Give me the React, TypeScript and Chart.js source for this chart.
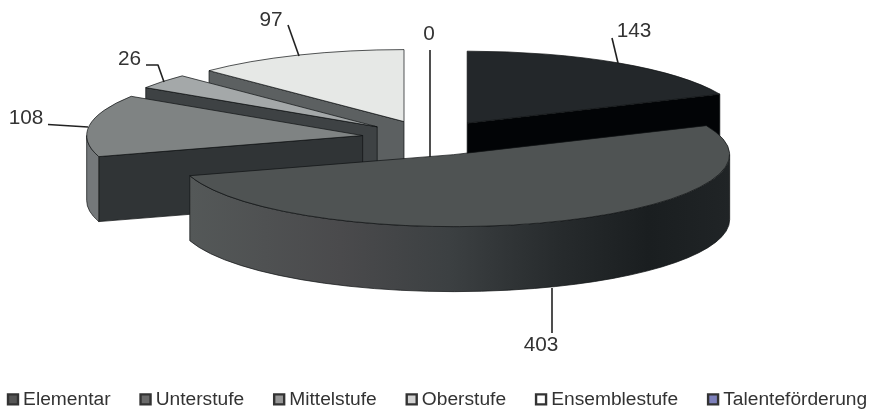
import React, { useEffect, useRef } from "react";
import { Chart, registerables } from "chart.js";

Chart.register(...registerables);

const categories = ["Elementar", "Unterstufe", "Mittelstufe", "Oberstufe", "Ensemblestufe", "Talenteförderung"];
const pupils = [143, 403, 108, 26, 97, 0];
const topColors = ["#23272a", "#4f5353", "#7f8383", "#a4a8a9", "#e6e8e6", "#ffffff"];
const cutColors = ["#020406", "#1f2325", "#303436", "#3e4244", "#5c6061", "#cccccc"];
const wallColors = ["#1a1e20", "", "#74787a", "#74787a", "#9a9c9c", "#eeeeee"];
const legendFills = ["#555555", "#6a6a6a", "#979797", "#d2d2d2", "#ffffff", "#7d80bb"];

// Label anchor and leader polyline for each slice that carries a visible label.
const labelLayout = [
  { text: [634, 31], line: [[612, 38], [618, 63]] },
  { text: [541, 345], line: [[552, 288], [552, 333]] },
  { text: [26, 118], line: [[48, 124.5], [88, 127]] },
  { text: [129.5, 59], line: [[146, 65], [158, 65], [164, 82]] },
  { text: [271, 20], line: [[288, 25], [299, 56]] },
  { text: [429, 34], line: [[430, 50], [430, 157]] },
];

// The canvas is wider and taller than the window so that the legend's wide item spacing fits on one row.
const CANVAS = { width: 1000, height: 419, shiftX: 22 };
const PIE = { cx: 430, cy: 138, rx: 276, ry: 72, depth: 65, explode: 68 };
const FONT = "20.8px 'Liberation Sans', Arial, sans-serif";
const TEXT = "#333333";
const EDGE = "rgba(16,18,20,0.95)";

const pie3d = {
  id: "pie3d",
  beforeDatasetDraw(chart: any, args: any) {
    const { ctx } = chart;
    const arcs = args.meta.data as any[];
    const items = arcs.map((arc, i) => {
      const p = arc.getProps(["x", "y", "startAngle", "endAngle", "outerRadius"], true);
      const mid = (p.startAngle + p.endAngle) / 2;
      const cosM = Math.cos(mid);
      const sinM = Math.sin(mid);
      return {
        i,
        arc,
        p,
        ax: PIE.cx + PIE.explode * cosM,
        ay: PIE.cy + (PIE.explode * sinM * PIE.ry) / PIE.rx,
        sinM,
      };
    });
    const at = (it: any, t: number) => [it.ax + PIE.rx * Math.cos(t), it.ay + PIE.ry * Math.sin(t)];
    const arcPath = (it: any, a: number, b: number) => {
      ctx.ellipse(it.ax, it.ay, PIE.rx, PIE.ry, 0, a, b);
    };
    const drawCut = (it: any, t: number) => {
      const [x, y] = at(it, t);
      ctx.beginPath();
      ctx.moveTo(it.ax, it.ay);
      ctx.lineTo(x, y);
      ctx.lineTo(x, y + PIE.depth);
      ctx.lineTo(it.ax, it.ay + PIE.depth);
      ctx.closePath();
      ctx.fillStyle = cutColors[it.i];
      ctx.fill();
      ctx.lineWidth = 0.75;
      ctx.strokeStyle = EDGE;
      ctx.stroke();
    };

    const order = items
      .filter((it) => it.p.endAngle > it.p.startAngle)
      .sort((a, b) => a.sinM - b.sinM);

    ctx.save();
    ctx.translate(CANVAS.shiftX, 0);
    ctx.lineJoin = "round";
    for (const it of order) {
      const s = it.p.startAngle;
      const e = it.p.endAngle;
      // Flat cut faces turned towards the viewer.
      if (Math.sin(s + Math.PI / 2) < -1e-6) drawCut(it, s);
      if (Math.sin(e + Math.PI / 2) > 1e-6) drawCut(it, e);

      // Outer wall: only the part of the rim in the front half of the ellipse.
      const from = Math.max(s, 0);
      const to = Math.min(e, Math.PI);
      if (to > from) {
        const [x1] = at(it, from);
        const [x2] = at(it, to);
        ctx.beginPath();
        arcPath(it, from, to);
        const [ex, ey] = at(it, to);
        ctx.lineTo(ex, ey + PIE.depth);
        ctx.ellipse(it.ax, it.ay + PIE.depth, PIE.rx, PIE.ry, 0, to, from, true);
        ctx.closePath();
        if (it.i === 1) {
          const g = ctx.createLinearGradient(x2, 0, x1, 0);
          g.addColorStop(0, "#545858");
          g.addColorStop(0.28, "#4a4a4c");
          g.addColorStop(0.48, "#3c4042");
          g.addColorStop(0.68, "#272b2d");
          g.addColorStop(0.85, "#1a1e20");
          g.addColorStop(1, "#202426");
          ctx.fillStyle = g;
        } else {
          ctx.fillStyle = wallColors[it.i];
        }
        ctx.fill();
        ctx.lineWidth = 0.75;
        ctx.strokeStyle = EDGE;
        ctx.stroke();
      }

      // Top face: the library's own arc, squashed onto the ellipse.
      ctx.save();
      ctx.translate(it.ax, it.ay);
      ctx.scale(PIE.rx / it.p.outerRadius, PIE.ry / it.p.outerRadius);
      ctx.translate(-it.p.x, -it.p.y);
      it.arc.draw(ctx);
      ctx.restore();

      ctx.beginPath();
      ctx.moveTo(it.ax, it.ay);
      arcPath(it, s, e);
      ctx.closePath();
      ctx.lineWidth = 0.75;
      ctx.strokeStyle = EDGE;
      ctx.stroke();
    }

    // Value labels with leader lines.
    ctx.strokeStyle = "#222222";
    ctx.lineWidth = 1.6;
    ctx.fillStyle = TEXT;
    ctx.font = FONT;
    ctx.textAlign = "center";
    ctx.textBaseline = "middle";
    labelLayout.forEach((l, i) => {
      ctx.beginPath();
      l.line.forEach(([x, y], k) => (k ? ctx.lineTo(x, y) : ctx.moveTo(x, y)));
      ctx.stroke();
      ctx.fillText(String(pupils[i]), l.text[0], l.text[1]);
    });
    ctx.restore();
    return false;
  },
};

export default function App() {
  const ref = useRef<HTMLCanvasElement>(null);
  useEffect(() => {
    document.body.style.margin = "0";
    const chart = new Chart(ref.current!, {
      type: "pie",
      data: {
        labels: categories,
        datasets: [{ data: pupils, backgroundColor: topColors, borderWidth: 0 }],
      },
      plugins: [pie3d],
      options: {
        animation: false,
        responsive: false,
        plugins: {
          tooltip: { enabled: false },
          legend: {
            position: "bottom",
            align: "start",
            labels: {
              usePointStyle: true,
              boxWidth: 1,
              boxHeight: 10,
              padding: 34.5,
              color: TEXT,
              font: { family: "'Liberation Sans', Arial, sans-serif", size: 19.2 },
              generateLabels: () =>
                categories.map((text, i) => ({
                  text,
                  index: i,
                  fillStyle: legendFills[i],
                  strokeStyle: "#333333",
                  lineWidth: 2.4,
                  pointStyle: "rect",
                  fontColor: TEXT,
                })),
            },
          },
        },
      },
    } as any);
    return () => chart.destroy();
  }, []);
  return (
    <div style={{ width: 872, height: 410, overflow: "hidden", position: "relative" }}>
      <canvas
        ref={ref}
        width={CANVAS.width}
        height={CANVAS.height}
        style={{ display: "block", position: "absolute", left: -CANVAS.shiftX, top: 0, width: CANVAS.width, height: CANVAS.height }}
      />
    </div>
  );
}
